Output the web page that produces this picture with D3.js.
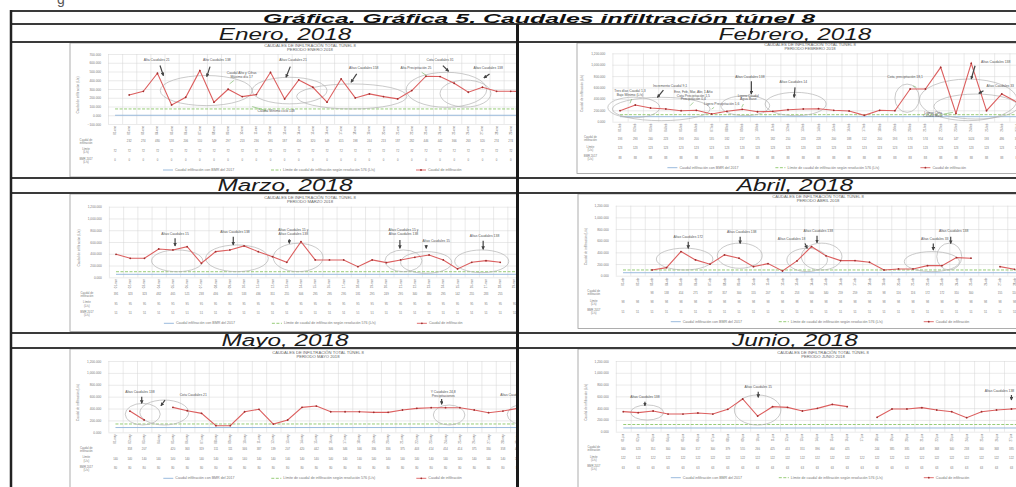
<!DOCTYPE html>
<html>
<head>
<meta charset="utf-8">
<script src="https://cdn.jsdelivr.net/npm/d3@7"></script>
<style>
  body { margin: 0; background: #fff; }
  svg { display: block; font-family: 'Liberation Sans', Arial, sans-serif; }
</style>
</head>
<body>
<svg id="grafica" width="1016" height="487"></svg>
<script>
// datos
const titulo = 'Gráfica. Gráfica 5. Caudales infiltración túnel 8';
const meses = ['Enero, 2018', 'Febrero, 2018', 'Marzo, 2018', 'Abril, 2018', 'Mayo, 2018', 'Junio, 2018'];
const mesesGrafica = ['ENERO 2018', 'FEBRERO 2018', 'MARZO 2018', 'ABRIL 2018', 'MAYO 2018', 'JUNIO 2018'];
const mesesCortos = ['ene', 'feb', 'mar', 'abr', 'may', 'jun'];
const diasMes = [31, 28, 31, 30, 31, 30];

const enero = [null, 232, 274, 480, 118, 206, 510, 149, 297, 213, 236, 491, 187, 404, 320, 149,
  415, 198, 244, 213, 187, 282, 446, 442, 366, 263, 320, 274, 274, 270, 265];
const febrero = [193, 293, 240, 223, 193, 200, 135, 182, 217, 175, 182, 210, 223, 228, 200, 188,
  112, 200, 193, 574, 574, 954, 147, 1024, 193, 486, 340, 330];
const marzo = [391, 323, 323, 482, 465, 521, 238, 436, 465, 533, 436, 351, 255, 606, 295, 295,
  295, 181, 295, 249, 295, 340, 380, 295, 142, 255, 283, 255, null, null, null];
const abril = [null, null, 98, 138, 414, 271, 197, 357, 300, 155, 207, 81, 253, 500, 340, 259,
  259, 231, 98, 116, 116, 172, 172, 310, 300, null, 155, 110, null, null];
const mayo = [null, 358, 207, null, 420, 363, 319, 111, 111, 346, 387, 139, 207, 420, 442, 346,
  346, 346, 336, 336, 375, 403, 414, 414, 414, 375, 330, 358, 403, 410, 400];
const junio = [340, 323, 351, 300, 300, 317, 300, 379, 555, 266, 425, 413, 351, 396, 464, 425,
  null, 244, 385, 385, 408, 368, 340, 238, 340, 368, 385, 396, 408, 400];
const caudales = [enero, febrero, marzo, abril, mayo, junio];

const limite = [72, 123, 95, 98, 140, 122];
const bmr2017 = [0, 88, 51, 51, 80, 63];

const ticksEnero = [-100, 0, 100, 200, 300, 400, 500, 600, 700];
const ticksFebrero = [0, 200, 400, 600, 800, 1000, 1200];
const ticksMarzo = [0, 200, 400, 600, 800, 1000, 1200];
const ticksAbril = [0, 200, 400, 600, 800, 1000, 1200];
const ticksMayo = [0, 200, 400, 600, 800, 1000, 1200];
const ticksJunio = [0, 200, 400, 600, 800, 1000, 1200];
const yTicks = [ticksEnero, ticksFebrero, ticksMarzo, ticksAbril, ticksMayo, ticksJunio];

const leyenda = ['Caudal infiltración con BMR del 2017',
  'Límite de caudal de infiltración según resolución 576 (L/s)',
  'Caudal de infiltración'];
const filasTabla = [['Caudal de', 'infiltración'], ['Límite', '(L/s)'], ['BMR 2017', '(L/s)']];

// notas: d = día, v = caudal, a = flecha [d1, v1, d2, v2]
const notasEnero = [
  { d: 3.95, v: 617, t: 'Alta Caudales 21', a: [4.18, 568, 4.42, 453], k: 'f' },
  { d: 8.2, v: 617, t: 'Alto Caudales 138', a: [7.72, 556, 7.49, 442], k: 'f' },
  { d: 9.96, v: 470, t: 'Caudal Alto y Cifras|Máximo día 17', a: [9.4, 396, 9.1, 358], k: 'v' },
  { d: 13.6, v: 617, t: 'Altas Caudales 21', a: [13.4, 556, 13.1, 434], k: 'f' },
  { d: 18.6, v: 530, t: 'Altas Caudales 158', a: [18.1, 472, 17.7, 377], k: 'f' },
  { d: 22.3, v: 530, t: 'Alta Precipitación 25', a: [22.7, 491, 23.05, 453], k: 'v' },
  { d: 24, v: 617, t: 'Cota Caudales 31', a: [24.2, 568, 24.6, 503], k: 'f' },
  { d: 27.4, v: 530, t: 'Altas Caudales 138', a: [27.5, 472, 27.1, 427], k: 'f' },
  { d: 12.4, v: 42, t: 'Caudal Mínimo ciclo 148', a: [11.7, 53, 10.7, 99], k: 'v' }
];
const notasFebrero = [
  { d: 1.65, v: 520, t: 'Tres días Caudal 1,3|Bajo Mínimo (L/s)', a: [1.76, 398, 1.65, 322], k: 'v' },
  { d: 4.28, v: 614, t: 'Incremento Caudal 9,1', a: [3.84, 556, 3.45, 427], k: 'f' },
  { d: 5.8, v: 500, t: 'Ene, Feb, Mar, Abr, 1 Año|Cota Precipitación 1,5|Precipitación 0,4', a: [5.8, 339, 5.59, 281], k: 'v' },
  { d: 7.66, v: 298, t: 'Ligero Precipitación 1,6', a: [7.16, 251, 7.0, 222], k: 'v' },
  { d: 9.5, v: 760, t: 'Altas Caudales 138', a: [9.6, 708, 9.6, 485], k: 'f' },
  { d: 9.4, v: 440, t: 'Ligero Caudal|Agua Base', a: [9.08, 310, 8.97, 251], k: 'v' },
  { d: 12.35, v: 672, t: 'Altas Caudales 14', a: [12.46, 602, 12.4, 427], k: 'f' },
  { d: 19.67, v: 766, t: 'Cota, precipitación 18,1', a: [20.2, 632, 20.4, 602], k: 'v' },
  { d: 25.6, v: 1023, t: 'Altas Caudales 138', a: [24.25, 982, 24, 749], k: 'f' },
  { d: 25.9, v: 614, t: 'Altas Caudales 33', a: [24.8, 544, 24.5, 497], k: 'f' },
  { d: 21.5, v: 140, t: 'Ligero Cota|Caudal Base', a: [22.2, 134, 22.8, 164], k: 'v' }
];
const notasMarzo = [
  { d: 5.15, v: 720, t: 'Altas Caudales 15', a: [5.15, 663, 5.15, 533], k: 'f' },
  { d: 9.36, v: 748, t: 'Altas Caudales 138', a: [9.24, 691, 9.24, 550], k: 'f' },
  { d: 13.46, v: 780, t: 'Altas Caudales 15 y|Altas Caudales 138', a: [13.18, 646, 13.18, 578], k: 'f' },
  { d: 21.2, v: 780, t: 'Altas Caudales 15 y|Altas Caudales 138', a: [20.95, 635, 20.95, 493], k: 'f' },
  { d: 23.5, v: 606, t: 'Altas Caudales 15', a: [22.8, 550, 22.8, 493], k: 'f' },
  { d: 26.9, v: 691, t: 'Altas Caudales 138', a: [26.8, 623, 26.8, 476], k: 'f' }
];
const notasAbril = [
  { d: 5.5, v: 651, t: 'Altas Caudales 172', a: [5.5, 583, 5.5, 469], k: 'f' },
  { d: 9.19, v: 737, t: 'Altas Caudales 138', a: [9.08, 669, 9.08, 554], k: 'f' },
  { d: 12.63, v: 612, t: 'Altas Caudales 18', a: [13.55, 554, 13.7, 469], k: 'f' },
  { d: 14.47, v: 754, t: 'Altas Caudales 138', a: [14.38, 686, 14.38, 566], k: 'f' },
  { d: 22.5, v: 612, t: 'Altas Caudales 33', a: [22.4, 554, 22.4, 440], k: 'f' },
  { d: 23.8, v: 748, t: 'Altas Caudales 138', a: [23.6, 669, 23.6, 554], k: 'f' }
];
const notasMayo = [
  { d: 2.7, v: 655, t: 'Altas Caudales 138', a: [2.83, 599, 2.83, 487], k: 'f' },
  { d: 6.42, v: 615, t: 'Cota Caudales 21', a: [4.45, 543, 4.17, 447], k: 'f' },
  { d: 23.84, v: 660, t: 'Y Caudales 24,8|Precipitaciones', a: [23.73, 561, 23.73, 471], k: 'f' },
  { d: 28.6, v: 615, t: 'Altas Caudales', a: [29.05, 552, 29.05, 446], k: 'f' }
];
const notasJunio = [
  { d: 2.45, v: 567, t: 'Altas Caudales 138', a: [2.45, 510, 2.45, 442], k: 'f' },
  { d: 10.04, v: 747, t: 'Altas Caudales 15', a: [10.04, 679, 10.04, 583], k: 'f' },
  { d: 26.2, v: 679, t: 'Altas Caudales 138', a: [27, 623, 27, 538], k: 'f' }
];
const notas = [notasEnero, notasFebrero, notasMarzo, notasAbril, notasMayo, notasJunio];

const elipsesEnero = [
  { d: 7.45, v: 282, rd: 3.25, rv: 172 }, { d: 13.35, v: 282, rd: 2.65, rv: 152 },
  { d: 17.75, v: 215, rd: 3.9, rv: 143 }, { d: 24.45, v: 291, rd: 2.85, rv: 200 },
  { d: 25.8, v: 248, rd: 1.8, rv: 154 }
];
const elipsesFebrero = [
  { d: 3.7, v: 223, rd: 3.2, rv: 205 }, { d: 1.9, v: 250, rd: 1.7, rv: 180 },
  { d: 9.2, v: 281, rd: 1.6, rv: 175 }, { d: 12.5, v: 310, rd: 2, rv: 205 },
  { d: 19.8, v: 412, rd: 0.8, rv: 248 }, { d: 23.8, v: 383, rd: 3.2, rv: 365 },
  { d: 24.3, v: 266, rd: 2.75, rv: 219 }
];
const elipsesMarzo = [
  { d: 5.3, v: 280, rd: 1.8, rv: 185 }, { d: 9.5, v: 323, rd: 2.2, rv: 227 },
  { d: 13.8, v: 337, rd: 1.75, rv: 241 }, { d: 21.2, v: 280, rd: 1.3, rv: 185 },
  { d: 22.8, v: 252, rd: 1.8, rv: 184 }, { d: 26.7, v: 272, rd: 1.9, rv: 193 }
];
const elipsesAbril = [
  { d: 5.25, v: 285, rd: 1.95, rv: 187 }, { d: 9.05, v: 343, rd: 1.55, rv: 216 },
  { d: 13.7, v: 270, rd: 1.4, rv: 200 }, { d: 14.7, v: 328, rd: 1.4, rv: 230 },
  { d: 22.3, v: 241, rd: 1.9, rv: 172 }, { d: 23.5, v: 328, rd: 0.86, rv: 230 }
];
const elipsesMayo = [
  { d: 2.9, v: 305, rd: 1.22, rv: 182 }, { d: 4.4, v: 333, rd: 1.7, rv: 210 },
  { d: 24.25, v: 291, rd: 1.1, rv: 168 }, { d: 29.6, v: 300, rd: 1.3, rv: 180 }
];
const elipsesJunio = [
  { d: 2.6, v: 326, rd: 1.1, rv: 128 }, { d: 10, v: 368, rd: 1.56, rv: 255 }
];
const elipses = [elipsesEnero, elipsesFebrero, elipsesMarzo, elipsesAbril, elipsesMayo, elipsesJunio];

// disposición de la tabla y de cada gráfica
const filas = [
  { cab: 24, cuerpo: 42, fin: 178 },
  { cab: 178, cuerpo: 193, fin: 333 },
  { cab: 333, cuerpo: 348, fin: 495 }
];
const divX = 517.5;
const centrosCab = [285, 795];

const layout = [
  { frameX: 70, frameBottom: 177, left: 108, band: 14.13, top: 54, bottom: 124, titleX: 310 },
  { frameX: 577, frameBottom: 173.5, left: 612.4, band: 15.27, top: 53.3, bottom: 121.7, titleX: 810 },
  { frameX: 70, frameBottom: 331.5, left: 108.9, band: 14.23, top: 206.7, bottom: 277.3, titleX: 310 },
  { frameX: 578, frameBottom: 328.5, left: 615.75, band: 14.5, top: 205.7, bottom: 275.7, titleX: 818 },
  { frameX: 70, frameBottom: 495, left: 108.3, band: 14.35, top: 361, bottom: 432.3, titleX: 318 },
  { frameX: 578, frameBottom: 495, left: 615.8, band: 14.93, top: 361, bottom: 431.7, titleX: 823 }
];

const rojo = '#dc5f5f';
const verde = '#8cc66a';
const azul = '#8fb3d9';
const gris = '#777';

const svg = d3.select('#grafica');
const defs = svg.append('defs');

defs.append('marker')
    .attr('id', 'punta')
    .attr('viewBox', '0 0 6 6')
    .attr('refX', 5)
    .attr('refY', 3)
    .attr('markerWidth', 3)
    .attr('markerHeight', 3)
    .attr('orient', 'auto')
  .append('path')
    .attr('d', 'M0,0L6,3L0,6Z')
    .attr('fill', '#444');

svg.append('rect')
    .attr('width', 1016)
    .attr('height', 487)
    .attr('fill', '#fff');

// resto de un texto cortado arriba
svg.append('text')
    .attr('x', 57)
    .attr('y', 3.5)
    .style('font-size', '14px')
    .attr('fill', '#555')
    .text('g');

const multilinea = (sel, lineas, dy) => {
  lineas.forEach((l, i) => {
    sel.append('tspan')
      .attr('x', sel.attr('x'))
      .attr('dy', i === 0 ? 0 : dy)
      .text(l);
  });
};

layout.forEach((L, k) => {
  const n = diasMes[k];
  const ticks = yTicks[k];
  const fila = filas[Math.floor(k / 2)];
  const col = k % 2;
  const cx0 = col === 0 ? 12.5 : divX + 1.5;
  const cx1 = col === 0 ? divX - 1.5 : 1016;

  const x = d3.scaleLinear()
      .domain([0.5, n + 0.5])
      .range([L.left, L.left + n * L.band]);
  const y = d3.scaleLinear()
      .domain(d3.extent(ticks))
      .range([L.bottom, L.top]);
  const ancho = n * L.band;

  defs.append('clipPath')
      .attr('id', `celda${k}`)
    .append('rect')
      .attr('x', cx0)
      .attr('y', fila.cuerpo)
      .attr('width', cx1 - cx0)
      .attr('height', fila.fin - fila.cuerpo);

  const g = svg.append('g')
      .attr('clip-path', `url(#celda${k})`);

  g.append('rect')
      .attr('x', L.frameX)
      .attr('y', fila.cuerpo + 1)
      .attr('width', 800)
      .attr('height', L.frameBottom - fila.cuerpo - 1)
      .attr('fill', '#fff')
      .attr('stroke', '#9a9a9a')
      .attr('stroke-width', 0.8);

  // título de la gráfica
  const tt = g.append('text')
      .attr('x', L.titleX)
      .attr('y', L.top - 7.5)
      .attr('text-anchor', 'middle')
      .style('font-size', '4.2px')
      .attr('fill', '#666');
  multilinea(tt, ['CAUDALES DE INFILTRACIÓN TOTAL TÚNEL 8', `PERIODO ${mesesGrafica[k]}`], 4);

  // rejilla
  g.append('g')
      .attr('transform', `translate(${L.left},0)`)
      .call(d3.axisLeft(y).tickValues(ticks).tickSize(-ancho).tickFormat(''))
      .call(a => a.select('.domain').remove())
      .call(a => a.selectAll('line').attr('stroke', '#d4d4d4').attr('stroke-width', 0.5));

  g.append('g')
      .attr('transform', `translate(0,${L.bottom})`)
      .call(d3.axisBottom(x).tickValues(d3.range(n + 1).map(i => i + 0.5))
        .tickSize(-(L.bottom - L.top)).tickFormat(''))
      .call(a => a.select('.domain').remove())
      .call(a => a.selectAll('line').attr('stroke', '#d4d4d4').attr('stroke-width', 0.5));

  // eje y
  g.append('g')
      .attr('transform', `translate(${L.left - 7},0)`)
      .call(d3.axisLeft(y).tickValues(ticks).tickSize(0).tickPadding(0)
        .tickFormat(d3.format(',.3f')))
      .attr('font-size', 3.2)
      .attr('font-family', null)
      .call(a => a.select('.domain').remove())
      .call(a => a.selectAll('text').attr('fill', gris));

  g.append('text')
      .attr('transform', `translate(${L.left - 29},${(L.top + L.bottom) / 2 + 6}) rotate(-90)`)
      .attr('text-anchor', 'middle')
      .style('font-size', '3.2px')
      .attr('fill', gris)
      .text('Caudal de infiltración (L/s)');

  // líneas de referencia
  g.append('line')
      .attr('x1', x(1)).attr('x2', x(n))
      .attr('y1', y(bmr2017[k])).attr('y2', y(bmr2017[k]))
      .attr('stroke', azul)
      .attr('stroke-width', 0.9);

  g.append('line')
      .attr('x1', x(1)).attr('x2', x(n))
      .attr('y1', y(limite[k])).attr('y2', y(limite[k]))
      .attr('stroke', verde)
      .attr('stroke-width', 0.9)
      .attr('stroke-dasharray', '3,1.5');

  // elipses
  g.selectAll('ellipse.nota')
    .data(elipses[k])
    .enter().append('ellipse')
      .attr('cx', e => x(e.d))
      .attr('cy', e => y(e.v))
      .attr('rx', e => x(e.d + e.rd) - x(e.d))
      .attr('ry', e => y(e.v - e.rv) - y(e.v))
      .attr('fill', 'none')
      .attr('stroke', '#b3b3b3')
      .attr('stroke-width', 0.7);

  // serie de caudal
  const linea = d3.line()
      .defined(v => v != null)
      .x((v, i) => x(i + 1))
      .y(v => y(v));

  g.append('path')
      .datum(caudales[k])
      .attr('d', linea)
      .attr('fill', 'none')
      .attr('stroke', rojo)
      .attr('stroke-width', 1.1);

  g.selectAll('circle.punto')
    .data(caudales[k].map((v, i) => ({ v, i })).filter(p => p.v != null))
    .enter().append('circle')
      .attr('cx', p => x(p.i + 1))
      .attr('cy', p => y(p.v))
      .attr('r', 0.9)
      .attr('fill', '#9e3030');

  // notas
  notas[k].forEach(nt => {
    g.append('line')
        .attr('x1', x(nt.a[0])).attr('y1', y(nt.a[1]))
        .attr('x2', x(nt.a[2])).attr('y2', y(nt.a[3]))
        .attr('stroke', nt.k === 'f' ? '#444' : '#6fb35a')
        .attr('stroke-width', nt.k === 'f' ? 1.2 : 0.6)
        .attr('marker-end', nt.k === 'f' ? 'url(#punta)' : null);
    const t = g.append('text')
        .attr('x', x(nt.d))
        .attr('y', y(nt.v))
        .attr('text-anchor', 'middle')
        .style('font-size', '3.4px')
        .attr('fill', '#555');
    multilinea(t, nt.t.split('|'), 3.6);
  });

  // tabla de datos
  const dias = d3.range(1, n + 1);
  g.selectAll('text.fecha')
    .data(dias)
    .enter().append('text')
      .attr('transform', d => `translate(${x(d) + 1},${L.bottom + 2}) rotate(-90)`)
      .attr('text-anchor', 'end')
      .style('font-size', '2.8px')
      .attr('fill', gris)
      .text(d => `${String(d).padStart(2, '0')}-${mesesCortos[k]}`);

  const valoresFila = [
    d => (caudales[k][d - 1] == null ? '' : caudales[k][d - 1]),
    () => limite[k],
    () => bmr2017[k]
  ];
  [18, 27.5, 37].forEach((dy, r) => {
    g.selectAll(`text.fila${r}`)
      .data(dias)
      .enter().append('text')
        .attr('x', d => x(d))
        .attr('y', L.bottom + dy)
        .attr('text-anchor', 'middle')
        .style('font-size', '2.8px')
        .attr('fill', gris)
        .text(valoresFila[r]);
    const h = g.append('text')
        .attr('x', L.left - 22)
        .attr('y', L.bottom + dy - 1.5)
        .attr('text-anchor', 'middle')
        .style('font-size', '2.8px')
        .attr('fill', gris);
    multilinea(h, filasTabla[r], 3.2);
  });

  // leyenda
  const colores = [azul, verde, rojo];
  [55, 163, 308].forEach((dx, i) => {
    const ly = L.bottom + 47;
    g.append('line')
        .attr('x1', L.left + dx).attr('x2', L.left + dx + 10)
        .attr('y1', ly - 1).attr('y2', ly - 1)
        .attr('stroke', colores[i])
        .attr('stroke-width', 0.9)
        .attr('stroke-dasharray', i === 1 ? '3,1.5' : null);
    if (i === 2) {
      g.append('circle')
          .attr('cx', L.left + dx + 5)
          .attr('cy', ly - 1)
          .attr('r', 0.9)
          .attr('fill', '#9e3030');
    }
    g.append('text')
        .attr('x', L.left + dx + 12)
        .attr('y', ly)
        .style('font-size', '3.6px')
        .attr('fill', gris)
        .text(leyenda[i]);
  });
});

// líneas de la tabla
const raya = (x1, y1, x2, y2, w, c) => svg.append('line')
    .attr('x1', x1).attr('y1', y1)
    .attr('x2', x2).attr('y2', y2)
    .attr('stroke', c)
    .attr('stroke-width', w);

raya(11, 11, 1016, 11, 2, '#3a3a3a');
raya(11, 24, 1016, 24, 2, '#3a3a3a');
filas.forEach(f => {
  raya(11, f.cab, 1016, f.cab, 2, '#3a3a3a');
  raya(11, f.cuerpo, 1016, f.cuerpo, 1.8, '#3a3a3a');
});
raya(11, 10, 11, 487, 2.5, '#222');
raya(divX, 24, divX, 487, 3, '#1a1a1a');

// títulos
svg.append('text')
    .attr('x', 539)
    .attr('y', 22.5)
    .attr('text-anchor', 'middle')
    .style('font-size', '13px')
    .style('font-weight', 'bold')
    .style('font-style', 'italic')
    .attr('fill', '#111')
    .attr('textLength', 552)
    .attr('lengthAdjust', 'spacingAndGlyphs')
    .text(titulo);

filas.forEach((f, r) => {
  [0, 1].forEach(c => {
    const t = svg.append('text')
        .attr('x', centrosCab[c])
        .attr('y', f.cuerpo - 2.2)
        .attr('text-anchor', 'middle')
        .style('font-size', '16px')
        .style('font-style', 'italic')
        .attr('fill', '#1a1a1a')
        .text(meses[r * 2 + c]);
    t.attr('textLength', t.node().getComputedTextLength() * 1.52)
      .attr('lengthAdjust', 'spacingAndGlyphs');
  });
});
</script>
</body>
</html>
